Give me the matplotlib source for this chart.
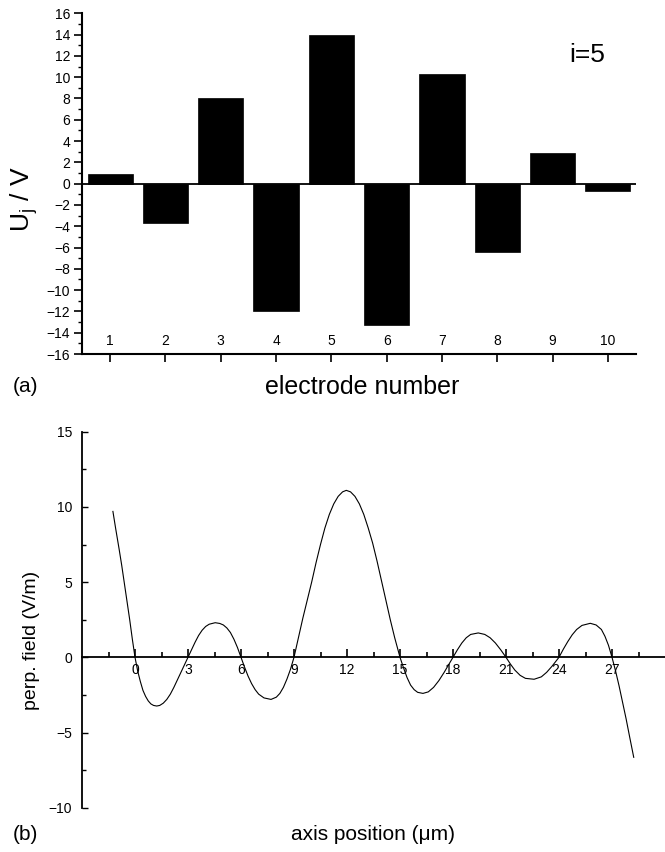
import numpy as np
import matplotlib
matplotlib.use("Agg")
import matplotlib.pyplot as plt
from matplotlib.ticker import MultipleLocator, FixedLocator

plt.rcParams['font.family'] = ['Liberation Sans', 'DejaVu Sans']
plt.rcParams['mathtext.fontset'] = 'custom'
plt.rcParams['mathtext.rm'] = 'Liberation Sans'

# --- panel (a): electrode voltages ---
electrodes = [1, 2, 3, 4, 5, 6, 7, 8, 9, 10]
voltages = [0.94, -3.7, 8.0, -12.0, 14.0, -13.3, 10.3, -6.45, 2.9, -0.72]

# --- panel (b): perpendicular field along the axis ---
axis_pos = [-1.25, -1.1, -0.9, -0.75, -0.6, -0.45, -0.3, -0.15, 0.0,
            0.15, 0.3, 0.45, 0.6, 0.75, 0.9, 1.05, 1.23, 1.4, 1.6, 1.8, 2.0,
            2.2, 2.4, 2.6, 2.8, 3.0,
            3.2, 3.4, 3.6, 3.8, 4.0, 4.2, 4.54, 4.8, 5.0, 5.2, 5.4, 5.6, 5.8, 6.0,
            6.2, 6.4, 6.6, 6.8, 7.0, 7.3, 7.7, 8.0, 8.2, 8.4, 8.6, 8.8, 9.0,
            9.25, 9.5, 9.75, 10.0, 10.25, 10.5, 10.75, 11.0, 11.25, 11.5, 11.75,
            11.96, 12.2, 12.45, 12.7, 12.95, 13.2, 13.45, 13.7, 13.95, 14.2,
            14.45, 14.7, 15.0,
            15.2, 15.4, 15.6, 15.8, 16.0, 16.3, 16.6, 16.9, 17.2, 17.5, 17.75, 18.0,
            18.25, 18.5, 18.75, 19.0, 19.43, 19.8, 20.1, 20.4, 20.7, 21.0,
            21.25, 21.5, 21.8, 22.1, 22.59, 23.0, 23.3, 23.6, 24.0,
            24.25, 24.5, 24.75, 25.0, 25.3, 25.77, 26.1, 26.4, 26.6, 26.8, 27.0,
            27.2, 27.4, 27.6, 27.8, 28.0, 28.23]
perp_field = [9.7, 8.6, 7.2, 6.1, 4.9, 3.7, 2.5, 1.2, 0.0,
              -0.9, -1.6, -2.2, -2.6, -2.9, -3.1, -3.2, -3.24, -3.2, -3.05, -2.8, -2.45,
              -2.0, -1.5, -1.0, -0.5, 0.0,
              0.5, 1.0, 1.45, 1.8, 2.05, 2.2, 2.3, 2.25, 2.15, 1.95, 1.65, 1.2, 0.65, 0.0,
              -0.65, -1.25, -1.75, -2.15, -2.45, -2.7, -2.8, -2.65, -2.4, -2.0, -1.45, -0.8, 0.0,
              1.3, 2.6, 3.8, 5.0, 6.3, 7.5, 8.6, 9.5, 10.2, 10.7, 11.0,
              11.1, 11.0, 10.7, 10.2, 9.5, 8.6, 7.6, 6.4, 5.1, 3.8,
              2.5, 1.3, 0.0,
              -0.7, -1.35, -1.85, -2.15, -2.33, -2.4, -2.3, -2.0, -1.55, -1.0, -0.5, 0.0,
              0.5, 0.95, 1.3, 1.52, 1.62, 1.52, 1.3, 0.95, 0.5, 0.0,
              -0.45, -0.85, -1.2, -1.4, -1.46, -1.3, -1.0, -0.6, 0.0,
              0.55, 1.05, 1.5, 1.85, 2.12, 2.26, 2.15, 1.85, 1.4, 0.8, 0.0,
              -0.9, -1.9, -3.0, -4.1, -5.3, -6.65]

W, H = 665, 852
fig = plt.figure(figsize=(W / 100, H / 100), dpi=100)

# ---------- (a) ----------
ax1 = fig.add_axes([82 / W, 1 - 354 / H, (636 - 82) / W, (354 - 13.3) / H])
ax1.bar(electrodes, voltages, width=0.82, color='black', edgecolor='black', linewidth=0.5)
ax1.axhline(0, color='black', lw=1.3)
ax1.set_xlim(0.49, 10.51)
ax1.set_ylim(-16, 16)
for s in ['top', 'right']:
    ax1.spines[s].set_visible(False)
for s in ['left', 'bottom']:
    ax1.spines[s].set_linewidth(1.5)
ax1.yaxis.set_major_locator(MultipleLocator(2))
ax1.yaxis.set_minor_locator(MultipleLocator(1))
ax1.set_xticks(electrodes)
ax1.tick_params(axis='y', which='major', direction='out', length=5.5, width=1.2,
                labelsize=10, pad=3)
ax1.tick_params(axis='y', which='minor', direction='out', length=3, width=1.0)
ax1.tick_params(axis='x', which='major', direction='out', length=5.5, width=1.2,
                labelsize=10, pad=-20)

fig.text(24 / W, 1 - 199 / H, r'U$_\mathregular{j}$ / V', rotation=90,
         ha='center', va='center', fontsize=19)
fig.text(587 / W, 1 - 55 / H, 'i=5', ha='center', va='center', fontsize=19)
fig.text(25 / W, 1 - 387 / H, '(a)', ha='center', va='center', fontsize=15)
fig.text(362 / W, 1 - 387 / H, 'electrode number', ha='center', va='center', fontsize=18)

# ---------- (b) ----------
ax2 = fig.add_axes([82 / W, 1 - 807.7 / H, (W - 82) / W, (807.7 - 431.7) / H])
ax2.plot(axis_pos, perp_field, color='black', lw=0.8, solid_joinstyle='round')
ax2.set_xlim(-3, 30)
ax2.set_ylim(-10, 15)
for s in ['top', 'right']:
    ax2.spines[s].set_visible(False)
ax2.spines['bottom'].set_position(('data', 0))
ax2.spines['bottom'].set_linewidth(1.3)
ax2.spines['left'].set_linewidth(1.3)
ax2.xaxis.set_major_locator(FixedLocator(list(range(0, 28, 3))))
ax2.xaxis.set_minor_locator(FixedLocator([-1.5 + 3 * k for k in range(11)]))
ax2.yaxis.set_major_locator(MultipleLocator(5))
ax2.yaxis.set_minor_locator(MultipleLocator(2.5))
ax2.tick_params(axis='x', which='major', direction='in', length=6, width=1.2,
                labelsize=10, pad=4)
ax2.tick_params(axis='x', which='minor', direction='in', length=3.5, width=1.2)
ax2.tick_params(axis='y', which='major', direction='in', length=4.5, width=1.0,
                labelsize=10, pad=7)
ax2.tick_params(axis='y', which='minor', direction='in', length=3, width=1.0)

fig.text(32 / W, 1 - 640 / H, 'perp. field (V/m)', rotation=90,
         ha='center', va='center', fontsize=14)
fig.text(25 / W, 1 - 835 / H, '(b)', ha='center', va='center', fontsize=15)
fig.text(373 / W, 1 - 835 / H, 'axis position (\u03bcm)', ha='center', va='center', fontsize=15)

fig.savefig('out.png', dpi=100)
